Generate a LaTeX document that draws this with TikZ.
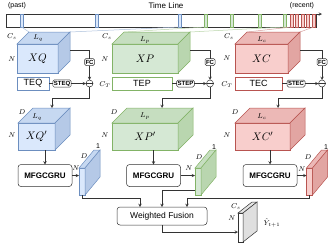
\documentclass[tikz,border=0pt]{standalone}
\usepackage[no-math]{fontspec}
\setmainfont{Liberation Sans}
\usetikzlibrary{positioning, calc, arrows.meta}
\definecolor{qfill}{HTML}{DAE8FC}
\definecolor{qline}{HTML}{6C8EBF}
\definecolor{pfill}{HTML}{D5E8D4}
\definecolor{pline}{HTML}{82B366}
\definecolor{cfill}{HTML}{F8CECC}
\definecolor{cline}{HTML}{B85450}
\definecolor{darkline}{HTML}{333333}
\colorlet{qtop}{qfill!82!qline}
\colorlet{qside}{qfill!66!qline}
\colorlet{ptop}{pfill!82!pline}
\colorlet{pside}{pfill!66!pline}
\colorlet{ctop}{cfill!82!cline}
\colorlet{cside}{cfill!66!cline}
\tikzset{
  face/.style={draw, line width=0.5pt, inner sep=0pt, outer sep=0pt, font=\fontsize{11}{12}\selectfont},
  stripe/.style={line width=0.4pt, minimum width=3, minimum height=13, inner sep=0pt, outer sep=0pt}
}
\tikzset{
  lab/.style={font=\fontsize{7}{8}\selectfont, inner sep=0pt},
  smallbox/.style={draw=darkline, fill=white, rounded corners=1.5pt, font=\fontsize{6}{7}\selectfont\bfseries, inner sep=1pt, minimum height=7, outer sep=0pt},
  tebox/.style={draw, fill=white, minimum height=13, inner sep=0pt, outer sep=0pt, font=\fontsize{9}{10}\selectfont},
  grubox/.style={draw=darkline, fill=white, rounded corners=3pt, minimum width=54, minimum height=22, inner sep=0pt, outer sep=0pt, font=\fontsize{8}{9}\selectfont\bfseries},
  sumnode/.style={draw=darkline, fill=white, circle, minimum size=7, inner sep=0pt, outer sep=0pt}
}
% top and right faces of a box drawn on a front-face node
\newcommand{\cubesides}[6]{
  \draw[#2, fill=#3] (#1.north west) -- ++(#5,-#6) -- ($(#1.north east)+(#5,-#6)$) -- (#1.north east) -- cycle;
  \draw[#2, fill=#4] (#1.north east) -- ++(#5,-#6) -- ($(#1.south east)+(#5,-#6)$) -- (#1.south east) -- cycle;
}

\begin{document}
\begin{tikzpicture}[>=stealth, x=1pt, y=-1pt, line width=0.5pt]
  \useasboundingbox (0,0) rectangle (332,244);
  % time line
  \node[lab] (past) at (17,6) {(past)};
  \node[lab, font=\fontsize{8}{9}\selectfont] (tltext) at (166,6) {Time Line};
  \node[lab] (recent) at (302,6) {(recent)};
  \node[draw=darkline, minimum width=310, minimum height=13, inner sep=0pt, outer sep=0pt] (tl) at (161,20.5) {};
  \draw[->, darkline] (tl.north west) -- ++(316,0);
  \foreach \i/\x in {1/21.5, 2/96.5, 3/179.5}
    \node[stripe, draw=qline, fill=qfill] (sq\i) at (\x,20.5) {};
  \foreach \i/\x in {1/205.5, 2/231.5, 3/259.5, 4/284.5}
    \node[stripe, draw=pline, fill=pfill] (sp\i) at (\x,20.5) {};
  \foreach \i/\x in {1/291.5, 2/297, 3/302.5, 4/308, 5/313.5}
    \node[stripe, draw=cline, fill=cfill] (sc\i) at (\x,20.5) {};

  % input cubes
  \node[face, draw=qline, fill=qfill, minimum width=41, minimum height=29] (xq) at (37.5,58.5) {$XQ$};
  \cubesides{xq}{qline}{qtop}{qside}{12}{12}
  \node[face, draw=pline, fill=pfill, minimum width=66, minimum height=29] (xp) at (145,58.5) {$XP$};
  \cubesides{xp}{pline}{ptop}{pside}{12}{12}
  \node[face, draw=cline, fill=cfill, minimum width=53, minimum height=29] (xc) at (261.5,58.5) {$XC$};
  \cubesides{xc}{cline}{ctop}{cside}{12}{12}
  \draw[qline!55] (sq1.south) -- ($(xq.north west)+(12,-12)$);
  \draw[qline!55] (sq3.south) -- ($(xq.north east)+(12,-12)$);
  \draw[pline!55] (sp1.south) -- ($(xp.north west)+(12,-12)$);
  \draw[pline!55] (sp4.south) -- ($(xp.north east)+(12,-12)$);
  \draw[cline!55] (sc1.south) -- ($(xc.north west)+(12,-12)$);
  \draw[cline!55] (sc5.south) -- ($(xc.north east)+(12,-12)$);
  \node[lab] (csq) at (12,37) {$C_s$};
  \node[lab] (lq) at (38,38.5) {$L_q$};
  \node[lab] (nq) at (12,59) {$N$};
  \node[lab] (csp) at (107,37) {$C_s$};
  \node[lab] (lp) at (145,40) {$L_p$};
  \node[lab] (np) at (105,59) {$N$};
  \node[lab] (csc) at (229,37) {$C_s$};
  \node[lab] (lc) at (262,40) {$L_c$};
  \node[lab] (nc) at (227,58) {$N$};

  % temporal embeddings
  \node[tebox, draw=qline, minimum width=32] (teq) at (33,83.5) {TEQ};
  \node[smallbox] (steq) at (62,83.5) {STEQ};
  \node[smallbox] (fcq) at (89.5,62) {FC};
  \node[sumnode] (addq) at (89.5,83.5) {};
  \node[tebox, draw=pline, minimum width=60] (tep) at (142,83.5) {TEP};
  \node[smallbox] (step) at (185.5,83.5) {STEP};
  \node[smallbox] (fcp) at (210,62) {FC};
  \node[sumnode] (addp) at (210,83.5) {};
  \node[lab] (ctp) at (105,85) {$C_T$};
  \node[tebox, draw=cline, minimum width=47] (tec) at (258.5,83.5) {TEC};
  \node[smallbox] (stec) at (296,83.5) {STEC};
  \node[smallbox] (fcc) at (322,62) {FC};
  \node[sumnode] (addc) at (322,83.5) {};
  \node[lab] (ctc) at (227,85) {$C_T$};
  \foreach \s in {addq, addp, addc}
    \draw[darkline] (\s.west) -- (\s.east);

  % embedded cubes
  \node[face, draw=qline, fill=qfill, minimum width=37, minimum height=27] (xqq) at (36.5,136.5) {$XQ'$};
  \cubesides{xqq}{qline}{qtop}{qside}{15}{15}
  \node[face, draw=pline, fill=pfill, minimum width=66, minimum height=27] (xpp) at (145,136.5) {$XP'$};
  \cubesides{xpp}{pline}{ptop}{pside}{15}{15}
  \node[face, draw=cline, fill=cfill, minimum width=55, minimum height=27] (xcc) at (262.5,136.5) {$XC'$};
  \cubesides{xcc}{cline}{ctop}{cside}{15}{15}
  \node[lab] (dq) at (22,112) {$D$};
  \node[lab] (lqq) at (37,117) {$L_q$};
  \node[lab] (nqq) at (12,135) {$N$};
  \node[lab] (dp) at (114,112) {$D$};
  \node[lab] (lpp) at (145,116) {$L_p$};
  \node[lab] (npp) at (105,135) {$N$};
  \node[lab] (dc) at (235,112) {$D$};
  \node[lab] (lcc) at (262,117) {$L_c$};
  \node[lab] (ncc) at (227,135) {$N$};
  \coordinate (inq) at ($(xqq.north west)+(34,-15)$);
  \coordinate (inp) at ($(xpp.north west)+(50,-15)$);
  \coordinate (inc) at ($(xcc.north west)+(43,-15)$);

  % connections of the embeddings
  \draw[darkline] ($(xq.east)+(12,-8)$) -| (fcq.north);
  \draw[darkline] ($(xp.east)+(12,-8)$) -| (fcp.north);
  \draw[darkline] ($(xc.east)+(12,-8)$) -| (fcc.north);
  \draw[darkline] (teq) -- (steq);
  \draw[darkline] (tep) -- (step);
  \draw[darkline] (tec) -- (stec);
  \foreach \f/\s/\a/\t in {fcq/steq/addq/inq, fcp/step/addp/inp, fcc/stec/addc/inc}{
    \draw[->, darkline] (\f) -- (\a);
    \draw[->, darkline] (\s) -- (\a);
    \draw[->, darkline] (\a.south) -- ++(0,11) -| (\t);
  }

  % recurrent units
  \node[grubox] (gq) at (45,175.5) {MFGCGRU};
  \node[grubox] (gp) at (153.5,175.5) {MFGCGRU};
  \node[grubox] (gc) at (270,175.5) {MFGCGRU};
  \node[face, draw=qline, fill=qfill, minimum width=6, minimum height=27] (hq) at (82,181.5) {};
  \cubesides{hq}{qline}{qtop}{qside}{15}{18}
  \node[face, draw=pline, fill=pfill, minimum width=6, minimum height=27] (hp) at (198,181.5) {};
  \cubesides{hp}{pline}{ptop}{pside}{15}{18}
  \node[face, draw=cline, fill=cfill, minimum width=6, minimum height=27] (hc) at (309.5,181.5) {};
  \cubesides{hc}{cline}{ctop}{cside}{15}{18}
  \node[lab] (oneq) at (98,146) {1};
  \node[lab] (dhq) at (84,156) {$D$};
  \node[lab] (nhq) at (76,168) {$N$};
  \node[lab] (onep) at (214,147) {1};
  \node[lab] (dhp) at (199,157) {$D$};
  \node[lab] (nhp) at (189,168) {$N$};
  \node[lab] (onec) at (326,147) {1};
  \node[lab] (dhc) at (308,157) {$D$};
  \node[lab] (nhc) at (302,169) {$N$};
  \draw[->, darkline] (xqq.south -| gq.north) -- (gq.north);
  \draw[->, darkline] (xpp.south -| gp.north) -- (gp.north);
  \draw[->, darkline] (xcc.south -| gc.north) -- (gc.north);
  \draw[->, darkline] (gq.east) -- (gq.east -| hq.west);
  \draw[->, darkline] (gp.east) -- (gp.east -| hp.west);
  \draw[->, darkline] (gc.east) -- (gc.east -| hc.west);

  % fusion and output
  \node[grubox, minimum width=90, minimum height=18, font=\fontsize{8.5}{9}\selectfont] (wf) at (162,216) {Weighted Fusion};
  \coordinate (wfq) at ($(wf.north)+(-22,0)$);
  \coordinate (wfc) at ($(wf.north)+(25,0)$);
  \draw[->, darkline] (hq.south) -- ++(0,3) -| (wfq);
  \draw[->, darkline] ($(hp.south west)+(0,-5)$) -| (wf.north);
  \draw[->, darkline] (hc.south) -- ++(0,3) -| (wfc);
  \node[face, draw=darkline, fill=white, minimum width=5, minimum height=29] (out) at (240.5,227.5) {};
  \cubesides{out}{darkline}{gray!20}{gray!25}{14}{11}
  \node[lab] (cso) at (236,207) {$C_s$};
  \node[lab] (no) at (232,218) {$N$};
  \node[lab] (yo) at (272,223) {$\hat{Y}_{t+1}$};
  \draw[->, darkline] (wf.south) |- ($(out.west)+(0,4.5)$);
\end{tikzpicture}
\end{document}
